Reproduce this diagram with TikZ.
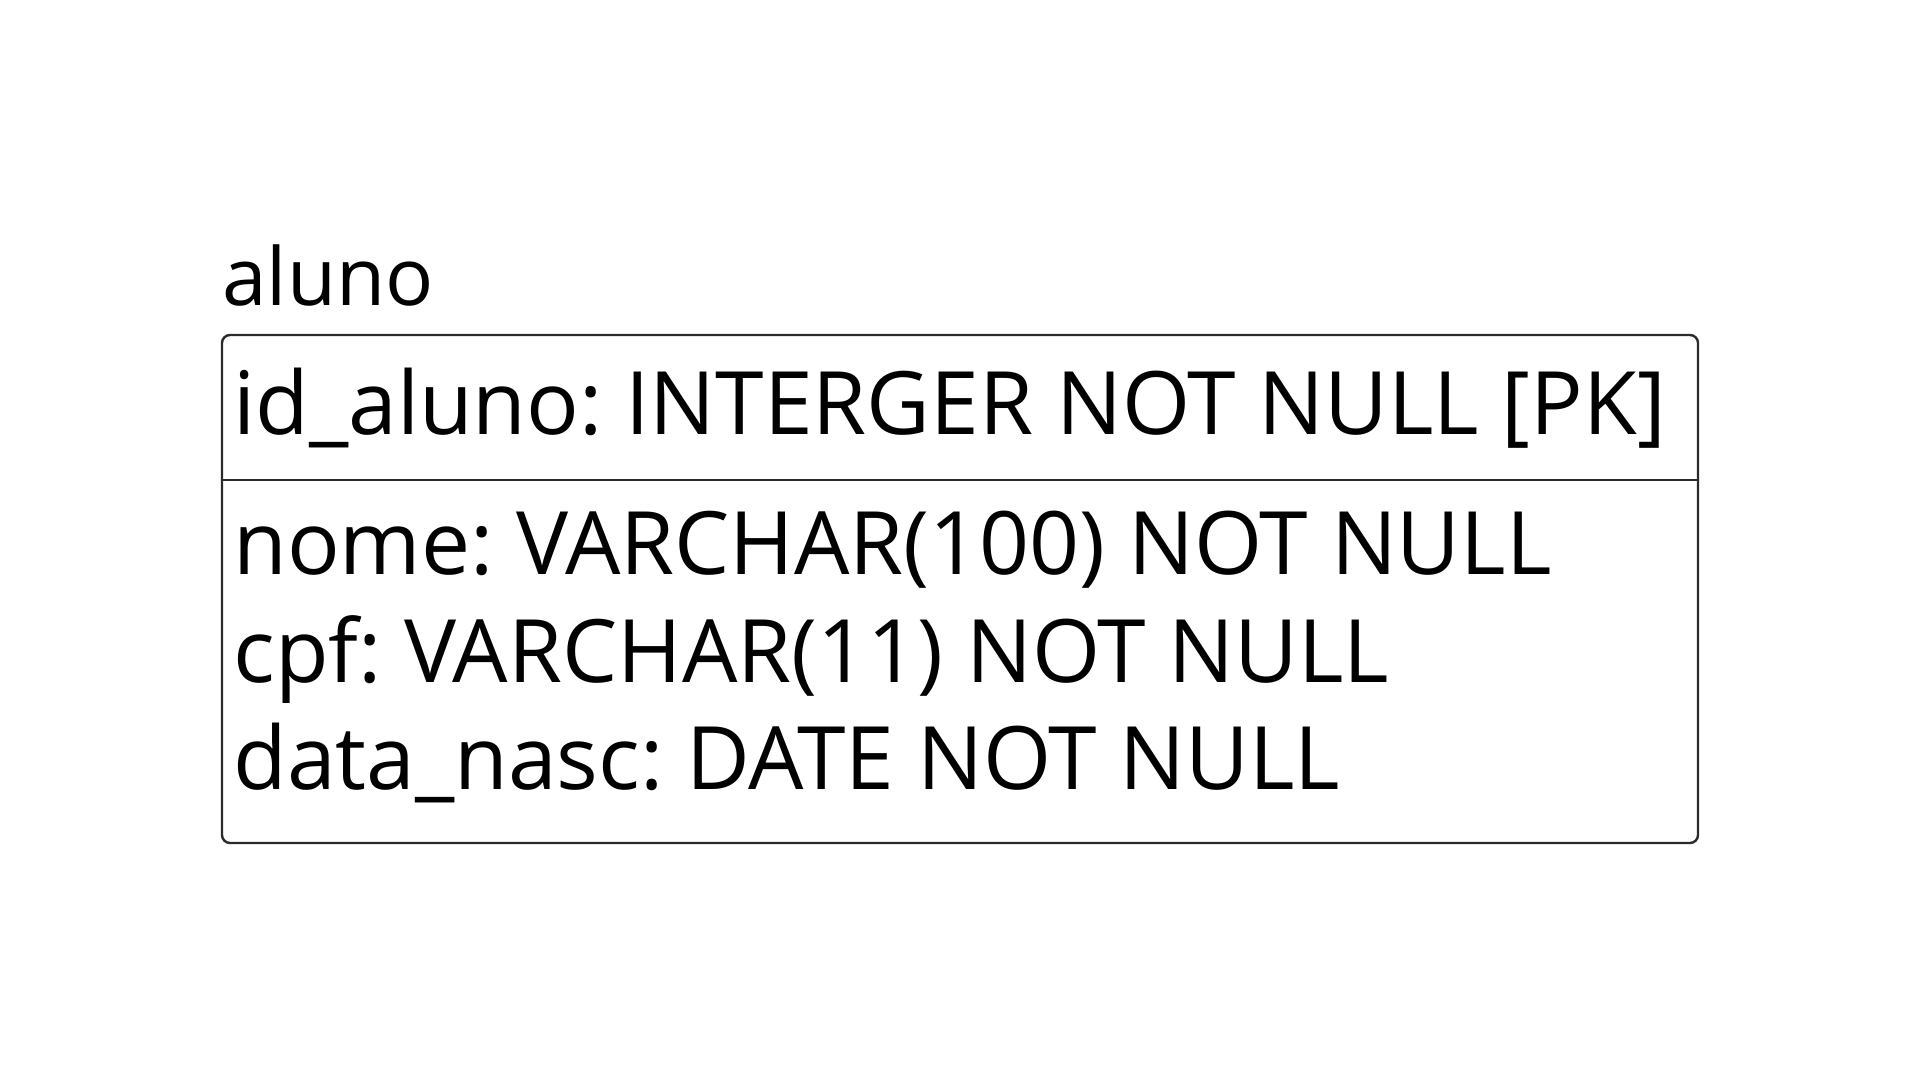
\documentclass[tikz,border=0pt]{standalone}
\usepackage{fontspec}
\setmainfont{Open Sans}
\definecolor{edge}{HTML}{2B2B2B}
\begin{document}
\frenchspacing
\begin{tikzpicture}[x=0.5pt,y=-0.5pt,
  rowtext/.style={anchor=base west,inner sep=0pt,font=\fontsize{43.75pt}{52pt}\selectfont},
  titletext/.style={anchor=base west,inner sep=0pt,font=\fontsize{40pt}{48pt}\selectfont},
  entitybox/.style={draw=edge,line width=1.2pt,rounded corners=4pt},
  divider/.style={draw=edge,line width=1.2pt}]
\useasboundingbox (0,0) rectangle (1920,1080);
\fill[white] (0,0) rectangle (1920,1080);
\node[titletext] (title) at (222,306) {aluno};
\draw[entitybox] (222,335) rectangle (1698,843);
\coordinate (dl) at (222,480);
\coordinate (dr) at (1698,480);
\draw[divider] (dl) -- (dr);
\node[rowtext] (pk) at (233,434) {id\_aluno: INTERGER NOT NULL [PK]};
\node[rowtext] (nome) at (233,574) {nome: VARCHAR(100) NOT NULL};
\node[rowtext] (cpf) at (233,682) {cpf: VARCHAR(11) NOT NULL};
\node[rowtext] (data) at (233,789) {data\_nasc: DATE NOT NULL};
\end{tikzpicture}
\end{document}
